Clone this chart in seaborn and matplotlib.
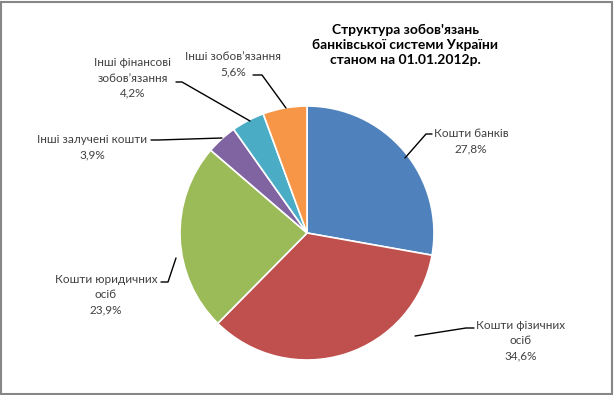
import matplotlib
matplotlib.use("Agg")
import matplotlib.pyplot as plt
import seaborn as sns
from matplotlib.patches import Rectangle

# Data
categories = ["Кошти банків", "Кошти фізичних\nосіб", "Кошти юридичних\nосіб",
              "Інші залучені кошти", "Інші фінансові\nзобов’язання", "Інші зобов’язання"]
shares = [27.8, 34.6, 23.9, 3.9, 4.2, 5.6]
colors = ["#4F81BD", "#C0504D", "#9BBB59", "#8064A2", "#4BACC6", "#F79646"]
title = "Структура зобов'язань\nбанківської системи України\nстаном на 01.01.2012р."

sns.set_theme(style="white")
plt.rcParams['font.family'] = ['Lato', 'DejaVu Sans']

W, H = 614, 395
fig = plt.figure(figsize=(W / 100, H / 100), dpi=100)
ax = fig.add_axes([0, 0, 1, 1])

# pie in pixel coordinates (y flipped, so counterclock=True draws clockwise on screen)
cx, cy, r = 307, 233, 127
wedges, _ = ax.pie(shares, colors=colors, startangle=-90, counterclock=True,
                   center=(cx, cy), radius=r, frame=True,
                   wedgeprops=dict(edgecolor="white", linewidth=1.2))
ax.set_xlim(0, W)
ax.set_ylim(H, 0)
ax.set_aspect("equal")
ax.axis("off")

# label placement (text centre, leader points) in pixels
label_pos = [(471, 141), (521, 341), (106, 295), (92, 147), (133, 78), (233, 64)]
leaders = [
    [(405, 158), (426, 134), (432, 134)],
    [(415, 336), (466, 328), (474, 328)],
    [(176, 258), (168, 282), (161, 282)],
    [(222, 138), (158, 140), (151, 140)],
    [(250, 121), (182, 82), (176, 82)],
    [(286, 108), (262, 75), (253, 75)],
]
txt_color = "#404040"
for cat, val, (tx, ty), pts in zip(categories, shares, label_pos, leaders):
    lbl = f"{cat}\n{val:.1f}%".replace(".", ",")
    ax.text(tx, ty, lbl, ha="center", va="center", fontsize=8.5, color=txt_color,
            linespacing=1.45)
    xs, ys = zip(*pts)
    ax.plot(xs, ys, color="black", lw=1)

ax.text(405, 45, title, ha="center", va="center", fontsize=10, fontweight="bold",
        color="black", linespacing=1.25)

fig.patches.append(Rectangle((0.002, 0.003), 0.995, 0.993, transform=fig.transFigure,
                             fill=False, edgecolor="#868686", lw=1.5))

fig.savefig("out.png", dpi=100)
